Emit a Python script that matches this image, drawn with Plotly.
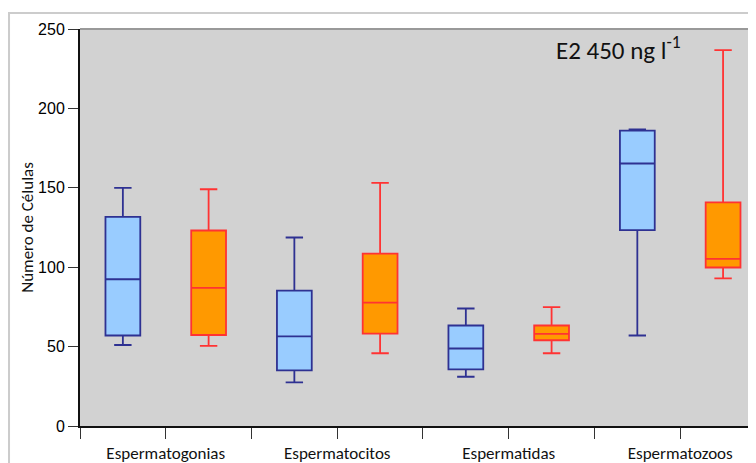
import plotly.graph_objects as go

categories = ['Espermatogonias', 'Espermatocitos', 'Espermatidas', 'Espermatozoos']
cat_index = [0, 1, 2, 3]

# Control (blue)
ctrl_lower = [51, 27.5, 31, 57]
ctrl_q1 = [57, 35, 35.7, 123.3]
ctrl_median = [92.4, 56.5, 48.8, 165.3]
ctrl_q3 = [131.7, 85.3, 63.3, 186]
ctrl_upper = [150, 118.7, 74, 186.8]

# E2 450 ng/l (orange)
e2_lower = [50.4, 45.8, 45.8, 92.9]
e2_q1 = [57.3, 58.2, 54, 99.8]
e2_median = [87, 77.7, 58, 105.2]
e2_q3 = [123.1, 108.6, 63.3, 140.8]
e2_upper = [149.1, 153.1, 74.8, 236.7]

y_ticks = [0, 50, 100, 150, 200, 250]

fig = go.Figure()
fig.add_trace(go.Box(
    x=cat_index, q1=ctrl_q1, median=ctrl_median, q3=ctrl_q3,
    lowerfence=ctrl_lower, upperfence=ctrl_upper,
    fillcolor='#99ccff', line=dict(color='#2e3192', width=1.8),
    whiskerwidth=0.5, boxpoints=False, name='Control', showlegend=False,
    hoverinfo='skip'))
fig.add_trace(go.Box(
    x=cat_index, q1=e2_q1, median=e2_median, q3=e2_q3,
    lowerfence=e2_lower, upperfence=e2_upper,
    fillcolor='#ff9900', line=dict(color='#ff3333', width=1.8),
    whiskerwidth=0.5, boxpoints=False, name='E2', showlegend=False,
    hoverinfo='skip'))

# page has an 8px body margin; figure is sized so the plot lands where the reference has it
fig.update_layout(
    width=748, height=455,
    margin=dict(l=72, r=0, t=21, b=37),
    paper_bgcolor='white', plot_bgcolor='#d2d2d2',
    boxmode='group', boxgap=0.0, boxgroupgap=0.594,
    xaxis=dict(
        range=[-0.5, 3.442], tickmode='array', tickvals=cat_index, ticktext=categories,
        showgrid=False, zeroline=False, showline=True, linecolor='#111', linewidth=2,
        ticks='outside', ticklen=11, tickcolor='#333', tickwidth=1,
        tickfont=dict(family='Carlito, Lato, sans-serif', size=17, color='#111'),
        minor=dict(tick0=-0.5, dtick=1, ticks='outside', ticklen=11, tickcolor='#333',
                   tickwidth=1, showgrid=False),
    ),
    yaxis=dict(
        range=[0, 250], tickvals=y_ticks, showgrid=False, zeroline=False,
        showline=True, linecolor='#111', linewidth=2,
        ticks='outside', ticklen=10, tickcolor='#333', tickwidth=1,
        tickfont=dict(family='Liberation Sans, Arial, sans-serif', size=16, color='#000'),
        title=dict(text='Número de Células', standoff=0,
                   font=dict(family='Carlito, Lato, sans-serif', size=17, color='#111')),
    ),
    shapes=[
        dict(type='rect', xref='paper', yref='paper', x0=-0.105, x1=1.2, y0=-0.3, y1=1.04,
             line=dict(color='#cccccc', width=2), fillcolor='rgba(0,0,0,0)', layer='below'),
        dict(type='line', xref='paper', yref='paper', x0=0, x1=1, y0=1, y1=1,
             line=dict(color='#999999', width=2)),
    ],
    annotations=[
        dict(text='E2 450 ng l<sup>-1</sup>', xref='paper', yref='paper',
             x=(618 - 80) / 676, y=(426 - 48) / 397, xanchor='center', yanchor='middle',
             showarrow=False,
             font=dict(family='Carlito, Lato, sans-serif', size=25, color='#111')),
    ],
)

fig.write_html('out.html')
